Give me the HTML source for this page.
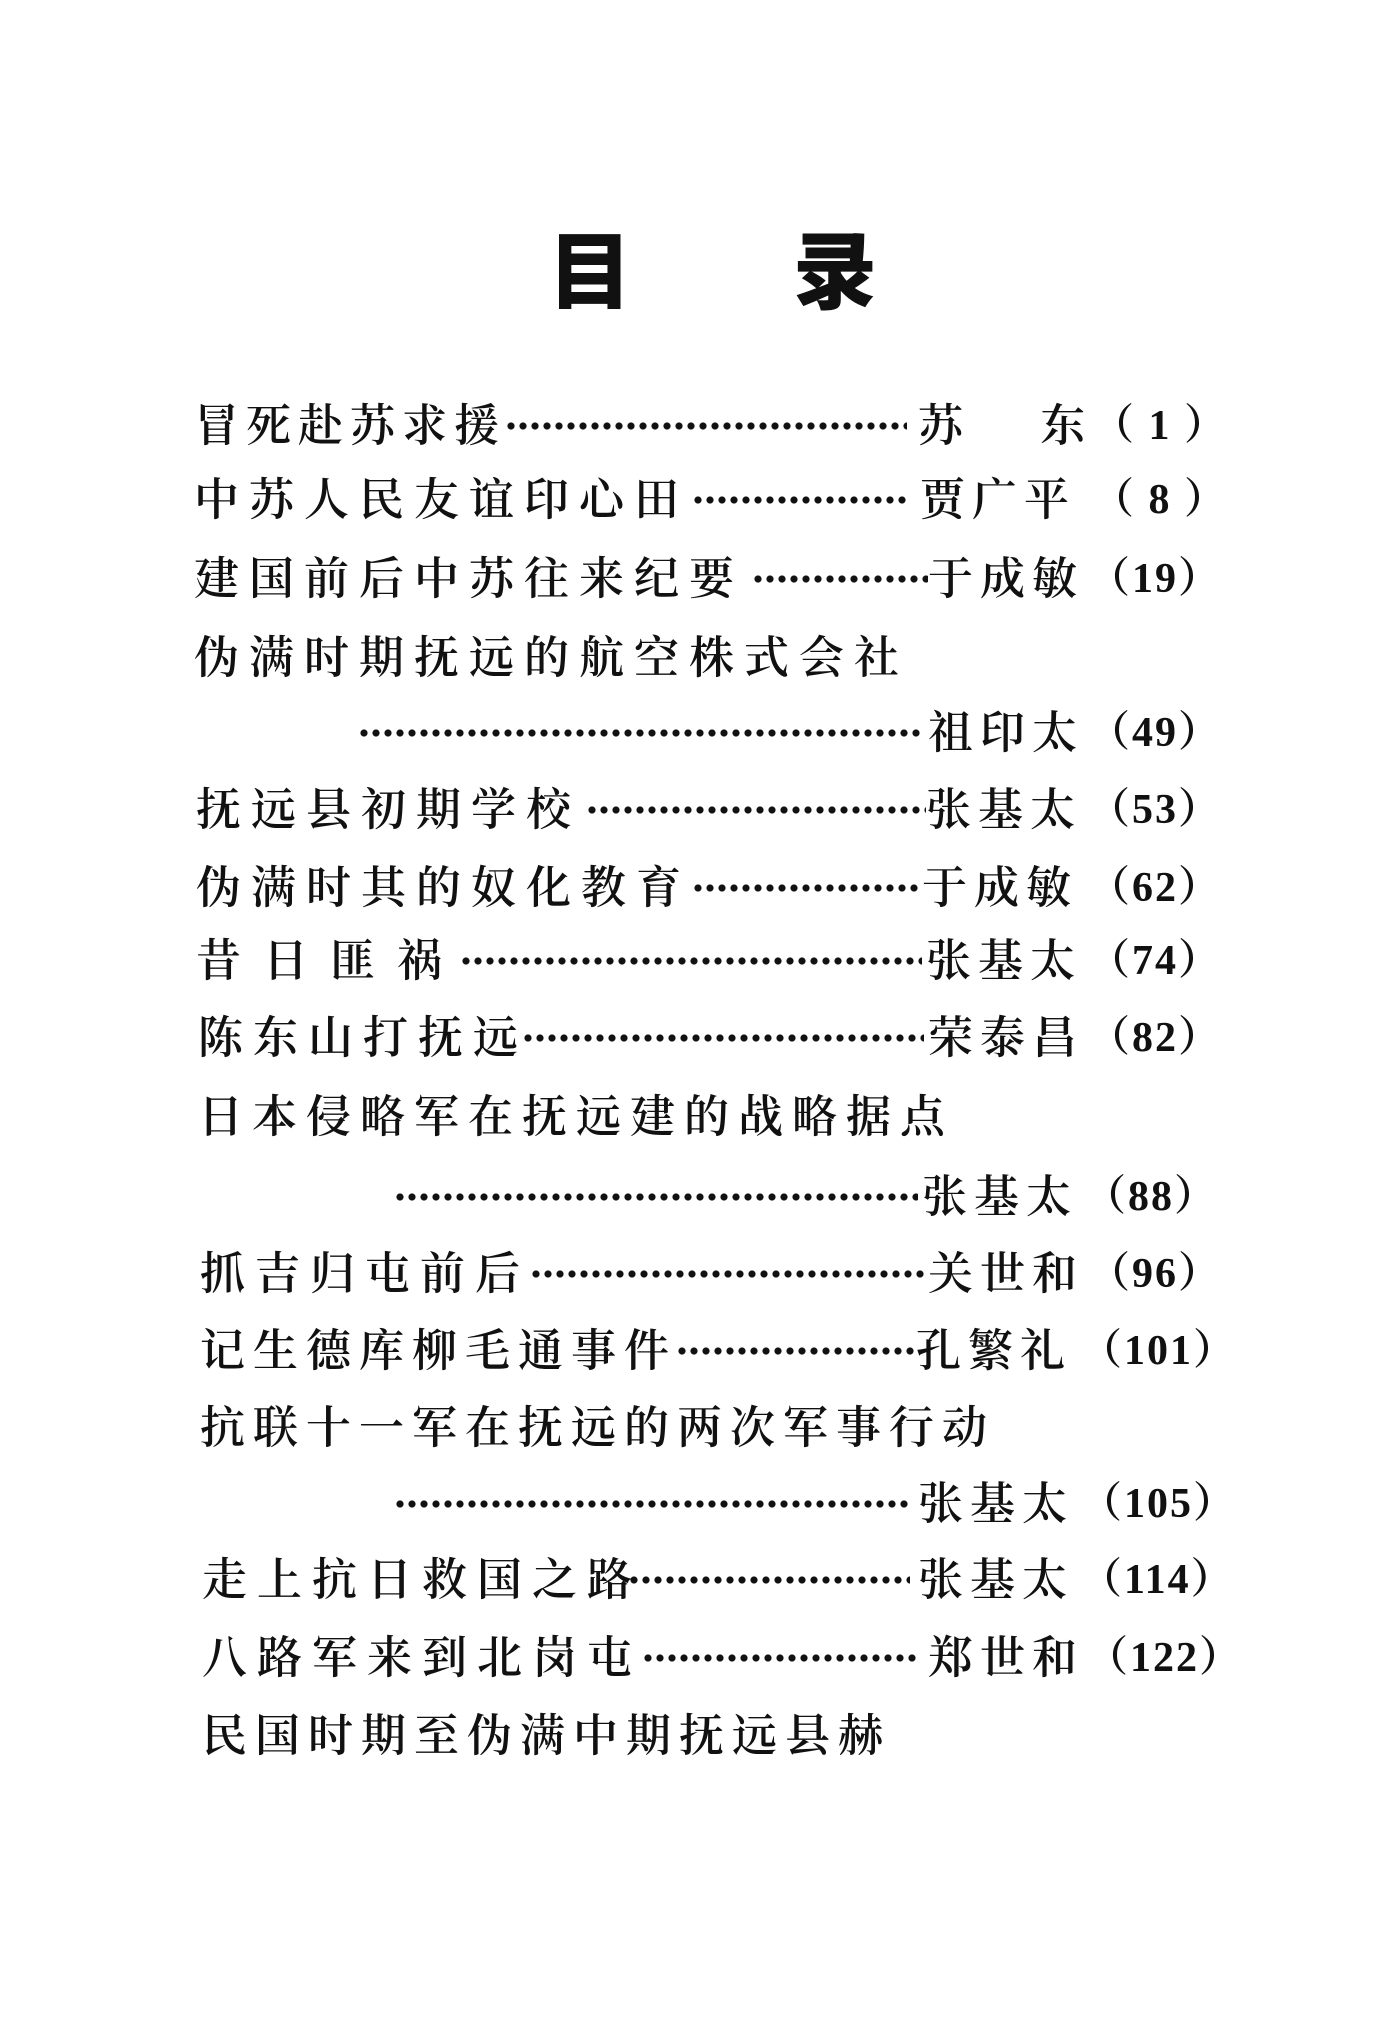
<!DOCTYPE html>
<html><head><meta charset="utf-8">
<style>
html,body{margin:0;padding:0;background:#fff;}
body{width:1393px;height:2027px;position:relative;overflow:hidden;
font-family:"Liberation Serif","Noto Serif CJK SC","Noto Sans CJK SC",serif;color:#111;}
.t{position:absolute;font-size:45px;line-height:56px;letter-spacing:10px;white-space:nowrap;font-weight:600;}
.h{position:absolute;font-size:84px;line-height:100px;font-weight:900;font-family:"Noto Sans CJK SC","WenQuanYi Zen Hei",sans-serif;}
.d{position:absolute;height:10px;background-image:radial-gradient(circle,#111 3.2px,transparent 3.9px);background-size:12px 10px;background-repeat:repeat-x;}
.p{position:absolute;font-size:42px;line-height:56px;white-space:nowrap;font-weight:700;letter-spacing:2px;}
</style></head><body>
<div class="h" style="left:548px;top:217px;">目</div>
<div class="h" style="left:793px;top:217px;">录</div>

<div class="t" style="left:194px;top:398px;letter-spacing:7px;">冒死赴苏求援</div>
<div class="d" style="left:505px;width:402px;top:421px;"></div>
<div class="t" style="left:918px;top:398px;letter-spacing:7px;">苏　 东</div>
<div class="p" style="left:1092px;top:398px;">（ 1 ）</div>

<div class="t" style="left:194px;top:472px;">中苏人民友谊印心田</div>
<div class="d" style="left:692px;width:216px;top:495px;"></div>
<div class="t" style="left:920px;top:472px;letter-spacing:7px;">贾广平</div>
<div class="p" style="left:1092px;top:472px;">（ 8 ）</div>

<div class="t" style="left:194px;top:551px;">建国前后中苏往来纪要</div>
<div class="d" style="left:752px;width:176px;top:574px;"></div>
<div class="t" style="left:928px;top:551px;letter-spacing:7px;">于成敏</div>
<div class="p" style="left:1088px;top:551px;">（19）</div>

<div class="t" style="left:194px;top:630px;">伪满时期抚远的航空株式会社</div>

<div class="d" style="left:358px;width:562px;top:728px;"></div>
<div class="t" style="left:928px;top:705px;letter-spacing:7px;">祖印太</div>
<div class="p" style="left:1088px;top:705px;">（49）</div>

<div class="t" style="left:196px;top:782px;">抚远县初期学校</div>
<div class="d" style="left:586px;width:340px;top:805px;"></div>
<div class="t" style="left:926px;top:782px;letter-spacing:7px;">张基太</div>
<div class="p" style="left:1088px;top:782px;">（53）</div>

<div class="t" style="left:196px;top:860px;">伪满时其的奴化教育</div>
<div class="d" style="left:692px;width:228px;top:883px;"></div>
<div class="t" style="left:922px;top:860px;letter-spacing:7px;">于成敏</div>
<div class="p" style="left:1088px;top:860px;">（62）</div>

<div class="t" style="left:196px;top:933px;letter-spacing:22px;">昔日匪祸</div>
<div class="d" style="left:460px;width:462px;top:956px;"></div>
<div class="t" style="left:926px;top:933px;letter-spacing:7px;">张基太</div>
<div class="p" style="left:1088px;top:933px;">（74）</div>

<div class="t" style="left:198px;top:1010px;">陈东山打抚远</div>
<div class="d" style="left:522px;width:402px;top:1033px;"></div>
<div class="t" style="left:928px;top:1010px;letter-spacing:7px;">荣泰昌</div>
<div class="p" style="left:1088px;top:1010px;">（82）</div>

<div class="t" style="left:198px;top:1089px;letter-spacing:9px;">日本侵略军在抚远建的战略据点</div>

<div class="d" style="left:394px;width:524px;top:1192px;"></div>
<div class="t" style="left:922px;top:1169px;letter-spacing:7px;">张基太</div>
<div class="p" style="left:1084px;top:1169px;">（88）</div>

<div class="t" style="left:200px;top:1246px;">抓吉归屯前后</div>
<div class="d" style="left:530px;width:396px;top:1269px;"></div>
<div class="t" style="left:928px;top:1246px;letter-spacing:7px;">关世和</div>
<div class="p" style="left:1088px;top:1246px;">（96）</div>

<div class="t" style="left:200px;top:1323px;letter-spacing:8px;">记生德库柳毛通事件</div>
<div class="d" style="left:676px;width:240px;top:1346px;"></div>
<div class="t" style="left:916px;top:1323px;letter-spacing:7px;">孔繁礼</div>
<div class="p" style="left:1080px;top:1323px;">（101）</div>

<div class="t" style="left:200px;top:1400px;letter-spacing:8px;">抗联十一军在抚远的两次军事行动</div>

<div class="d" style="left:394px;width:516px;top:1499px;"></div>
<div class="t" style="left:918px;top:1476px;letter-spacing:7px;">张基太</div>
<div class="p" style="left:1080px;top:1476px;">（105）</div>

<div class="t" style="left:202px;top:1552px;">走上抗日救国之路</div>
<div class="d" style="left:628px;width:282px;top:1575px;"></div>
<div class="t" style="left:918px;top:1552px;letter-spacing:7px;">张基太</div>
<div class="p" style="left:1080px;top:1552px;">（114）</div>

<div class="t" style="left:202px;top:1630px;">八路军来到北岗屯</div>
<div class="d" style="left:642px;width:278px;top:1653px;"></div>
<div class="t" style="left:928px;top:1630px;letter-spacing:7px;">郑世和</div>
<div class="p" style="left:1086px;top:1630px;">（122）</div>

<div class="t" style="left:202px;top:1708px;letter-spacing:8px;">民国时期至伪满中期抚远县赫</div>
</body></html>
